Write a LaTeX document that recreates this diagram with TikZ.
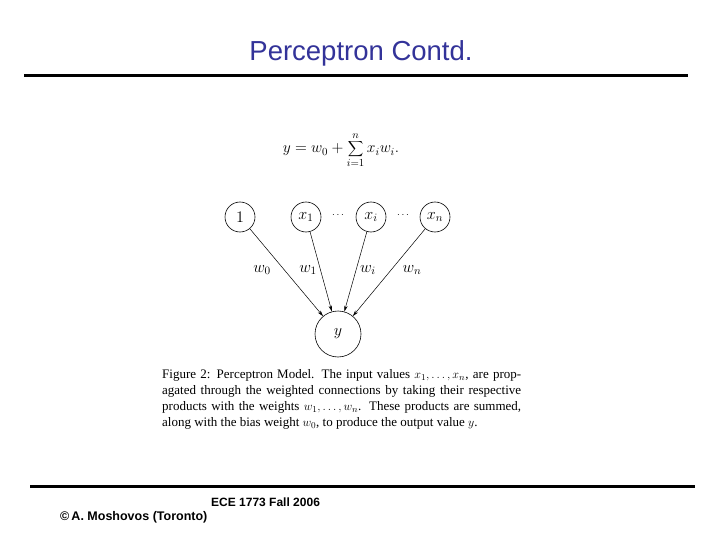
\documentclass[tikz,border=0pt]{standalone}
\usepackage{fontspec}
\usepackage{graphicx}
\setmainfont{Liberation Serif}
\newfontfamily\arialfont{Liberation Sans}
\newfontfamily\arialbold{Liberation Sans Bold}
\usetikzlibrary{arrows.meta}
\definecolor{titleblue}{RGB}{51,51,153}
\newcommand{\mybigmath}[1]{\scalebox{1.12}{#1}}
\begin{document}
\begin{tikzpicture}[x=1pt,y=-1pt,
  neuron/.style={draw, circle, line width=0.6pt, inner sep=0pt},
  conn/.style={line width=0.5pt, -{Stealth[length=6pt,width=3.5pt]}},
  mathlbl/.style={font=\fontsize{14.4}{17}\selectfont, inner sep=0pt},
  rulebar/.style={line width=3pt}]
\useasboundingbox[fill=white] (0,0) rectangle (720,540);
% title
\node[font=\arialfont\fontsize{27.5}{32}\selectfont, text=titleblue, inner sep=0pt] (title) at (361,53) {Perceptron Contd.};
\coordinate (tl) at (24,76);
\coordinate (tr) at (688,76);
\draw[rulebar] (tl) -- (tr);
% equation
\node[mathlbl] (eq) at (341,150) {\scalebox{1.08}{$\displaystyle y = w_0 + \sum_{i=1}^{n} x_i w_i.$}};
% neurons
\node[neuron, minimum size=30pt, mathlbl] (one) at (240,217) {\mybigmath{$1$}};
\node[neuron, minimum size=30pt, mathlbl] (x1) at (306,217) {\mybigmath{$x_1$}};
\node[neuron, minimum size=30pt, mathlbl] (xi) at (371,217) {\mybigmath{$x_i$}};
\node[neuron, minimum size=30pt, mathlbl] (xn) at (435,217) {\mybigmath{$x_n$}};
\node[font=\fontsize{10}{11}\selectfont, inner sep=0pt] (d1) at (338,215) {$\cdots$};
\node[font=\fontsize{10}{11}\selectfont, inner sep=0pt] (d2) at (403,215) {$\cdots$};
\node[neuron, minimum size=46pt, mathlbl] (y) at (338,334) {\mybigmath{$y$}};
% connectors
\draw[conn] (one) -- (y);
\draw[conn] (x1) -- (y);
\draw[conn] (xi) -- (y);
\draw[conn] (xn) -- (y);
% weights
\node[mathlbl] (w0) at (262,270) {\mybigmath{$w_0$}};
\node[mathlbl] (w1) at (308,270) {\mybigmath{$w_1$}};
\node[mathlbl] (wi) at (368,270) {\mybigmath{$w_i$}};
\node[mathlbl] (wn) at (412,270) {\mybigmath{$w_n$}};
% caption
\node[anchor=north west, inner sep=0pt, text width=359pt, align=justify,
      font=\fontsize{13}{16}\selectfont] (cap) at (162,369)
  {Figure 2: Perceptron Model. The input values $x_1,\ldots,x_n$, are prop-\linebreak
   agated through the weighted connections by taking their respective\linebreak
   products with the weights $w_1,\ldots,w_n$. These products are summed,\linebreak
   along with the bias weight $w_0$, to produce the output value $y$.};
% footer
\coordinate (bl) at (30,486);
\coordinate (br) at (695,486);
\draw[rulebar] (bl) -- (br);
\node[font=\arialbold\fontsize{12}{14}\selectfont, anchor=west, inner sep=0pt] (ece) at (211,502) {ECE 1773 Fall 2006};
\node[font=\arialbold\fontsize{12.5}{15}\selectfont, anchor=west, inner sep=0pt] (copy) at (60,517) {\textcopyright\,A. Moshovos (Toronto)};
\end{tikzpicture}
\end{document}
